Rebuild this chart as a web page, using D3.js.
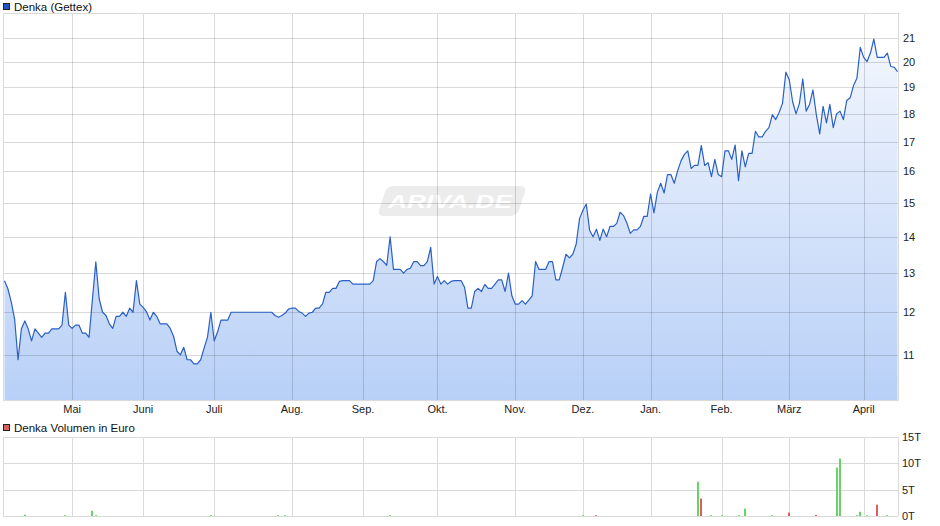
<!DOCTYPE html>
<html><head><meta charset="utf-8">
<script src="https://cdn.jsdelivr.net/npm/d3@7"></script>
<style>
body{margin:0;background:#fff;}
svg{display:block;font-family:"Liberation Sans",Arial,sans-serif;}
</style>
</head><body>
<svg id="c" width="940" height="526"></svg>
<script>
// ---------- data ----------
const prices = [
12.80,12.59,12.25,11.83,10.89,11.60,11.79,11.60,11.32,11.60,
11.50,11.40,11.50,11.50,11.60,11.60,11.60,11.69,12.50,11.69,
11.61,11.69,11.69,11.50,11.50,11.40,12.33,13.30,12.33,12.00,
11.92,11.72,11.61,11.90,11.90,12.00,11.90,12.10,12.00,12.80,
12.20,12.12,12.01,11.81,12.00,11.90,11.72,11.72,11.72,11.61,
11.42,11.08,11.00,11.17,10.89,10.89,10.80,10.80,10.89,11.15,
11.40,12.00,11.32,11.53,11.81,11.81,11.81,
12.00,12.00,12.00,12.00,12.00,12.00,12.00,12.00,12.00,12.00,12.00,12.00,12.00,
11.92,11.88,11.92,11.98,12.08,12.10,12.10,12.02,11.98,11.90,
11.98,12.00,12.10,12.10,12.20,12.50,12.50,12.60,12.60,12.78,
12.80,12.80,12.80,12.71,12.71,12.71,12.71,12.71,12.71,12.80,
13.31,13.39,13.31,13.21,14.00,13.10,13.10,13.10,13.00,13.10,
13.13,13.31,13.31,13.20,13.20,13.31,13.70,12.71,12.91,12.71,
12.80,12.71,12.78,12.80,12.80,12.80,12.63,12.10,12.10,12.52,
12.60,12.52,12.70,12.60,12.60,12.71,12.82,12.82,12.52,13.00,
12.41,12.20,12.20,12.29,12.20,12.30,12.41,13.31,13.10,13.10,
13.10,13.31,13.31,12.82,12.82,13.15,13.51,13.41,13.51,13.79,
14.53,14.78,14.97,14.18,14.00,14.22,13.90,14.22,14.00,14.30,
14.30,14.39,14.72,14.62,14.40,14.10,14.20,14.20,14.30,14.60,
14.60,15.28,14.70,15.33,15.62,15.31,15.90,15.90,15.62,
16.02,16.35,16.57,16.69,16.10,16.20,16.20,16.87,16.20,16.29,15.83,
16.40,15.90,15.83,16.69,16.69,16.40,16.89,15.70,16.69,16.15,
16.60,16.60,17.37,17.17,17.17,17.37,17.50,17.97,17.79,18.05,
18.39,19.60,19.30,18.45,18.00,18.39,19.33,18.10,18.35,18.90,
17.97,17.28,18.28,17.67,18.35,17.50,18.00,18.10,17.79,18.50,
18.60,19.07,19.36,20.62,20.20,20.03,20.38,20.97,20.20,20.20,
20.20,20.38,19.83,19.80,19.62
];
const monthLabels = ["Mai","Juni","Juli","Aug.","Sep.","Okt.","Nov.","Dez.","Jan.","Feb.","März","April"];
const monthIdx    = [20,41,62,85,106,128,151,171,191,212,232,254];
const priceTicks  = [11,12,13,14,15,16,17,18,19,20,21];
const priceDomain = [10.03,22.12];

const volIdx    = [6,18,26,27,61,81,83,114,171,175,205,206,209,212,217,219,227,232,240,246,247,252,253,255,258,261];
const volValues = [0.25,0.15,1.0,0.15,0.15,0.15,0.15,0.15,0.15,0.15,6.5,3.3,0.15,0.15,0.15,1.4,0.15,0.65,0.2,9.2,10.9,0.15,0.8,0.15,2.15,0.15];
const volDir    = ["u","u","u","u","u","u","u","u","u","d","u","d","u","u","u","u","u","d","d","u","u","u","u","u","d","u"];
const volTicks  = [0,5,10,15];
const volTickLabels = ["0T","5T","10T","15T"];
const volDomain = [0,15];

const title1 = "Denka (Gettex)";
const title2 = "Denka Volumen in Euro";

// ---------- layout ----------
const L = 3, R = 898;
const pTop = 13, pBot = 400;
const vTop = 437, vBot = 516;
const gridCol = "#dadada";

const svg = d3.select("#c");
const defs = svg.append("defs");
const grad = defs.append("linearGradient").attr("id","fillg")
  .attr("gradientUnits","userSpaceOnUse").attr("x1",0).attr("x2",0).attr("y1",pTop).attr("y2",pBot);
grad.append("stop").attr("offset","0%").attr("stop-color","#f7f9fe");
grad.append("stop").attr("offset","100%").attr("stop-color","#b8d0f7");

const x = d3.scaleLinear().domain([0, prices.length-1]).range([4.5, 897.5]);
const y = d3.scaleLog().domain(priceDomain).range([pBot, pTop]);
const yv = d3.scaleLinear().domain(volDomain).range([vBot, vTop]);

// ---------- price panel ----------
// legend
svg.append("rect").attr("x",3.5).attr("y",3.5).attr("width",6).attr("height",6)
  .attr("fill","#1f55c6").attr("stroke","#222").attr("stroke-width",1);
svg.append("text").attr("x",14).attr("y",11).attr("font-size",11.5).attr("fill","#111").text(title1);

// watermark
const wm = svg.append("g").attr("transform","translate(450,201)");
wm.append("rect").attr("x",-68).attr("y",-15).attr("width",140).attr("height",30).attr("rx",6)
  .attr("fill","#ececec").attr("transform","skewX(-18)");
wm.append("text").attr("x",0).attr("y",6.5).attr("text-anchor","middle")
  .attr("font-size",18).attr("font-weight","bold").attr("font-style","italic")
  .attr("fill","#ffffff").attr("textLength",124).attr("lengthAdjust","spacingAndGlyphs").text("ARIVA.DE");

// area + line
const area = d3.area().x((d,i)=>x(i)).y0(pBot).y1(d=>y(d));
svg.append("path").datum(prices).attr("d",area).attr("fill","url(#fillg)");

// grid
const g1 = svg.append("g").attr("stroke","rgba(0,0,0,0.145)").attr("stroke-width",1).attr("shape-rendering","crispEdges");
g1.selectAll("line.h").data(priceTicks).enter().append("line")
  .attr("x1",L).attr("x2",R).attr("y1",d=>Math.round(y(d))+0.5).attr("y2",d=>Math.round(y(d))+0.5);
g1.selectAll("line.v").data(monthIdx).enter().append("line")
  .attr("x1",d=>Math.round(x(d))+0.5).attr("x2",d=>Math.round(x(d))+0.5).attr("y1",pTop).attr("y2",pBot);

svg.append("path").datum(prices).attr("d",d3.line().x((d,i)=>x(i)).y(d=>y(d)))
  .attr("fill","none").attr("stroke","#2a60c6").attr("stroke-width",1.2).attr("stroke-linejoin","round");

svg.append("rect").attr("x",L+0.5).attr("y",pTop+0.5).attr("width",R-L).attr("height",pBot-pTop)
  .attr("fill","none").attr("stroke",gridCol).attr("shape-rendering","crispEdges");

// y labels
svg.append("g").selectAll("text").data(priceTicks).enter().append("text")
  .attr("x",903).attr("y",d=>y(d)).attr("dy","0.36em").attr("font-size",11).attr("fill","#222").text(d=>d);

// x labels
svg.append("g").selectAll("text").data(monthIdx).enter().append("text")
  .attr("x",d=>x(d)).attr("y",413).attr("text-anchor","middle").attr("font-size",11).attr("fill","#222")
  .text((d,i)=>monthLabels[i]);

// ---------- volume panel ----------
svg.append("rect").attr("x",3.5).attr("y",424.5).attr("width",6).attr("height",6)
  .attr("fill","#d9605f").attr("stroke","#222").attr("stroke-width",1);
svg.append("text").attr("x",14).attr("y",432).attr("font-size",11.5).attr("fill","#111").text(title2);

const g2 = svg.append("g").attr("stroke",gridCol).attr("stroke-width",1).attr("shape-rendering","crispEdges");
g2.selectAll("line.h").data(volTicks).enter().append("line")
  .attr("x1",L).attr("x2",R).attr("y1",d=>Math.round(yv(d))+0.5).attr("y2",d=>Math.round(yv(d))+0.5);
g2.selectAll("line.v").data(monthIdx).enter().append("line")
  .attr("x1",d=>Math.round(x(d))+0.5).attr("x2",d=>Math.round(x(d))+0.5).attr("y1",vTop).attr("y2",vBot);
g2.append("line").attr("x1",L+0.5).attr("x2",L+0.5).attr("y1",vTop).attr("y2",vBot);
g2.append("line").attr("x1",R+0.5).attr("x2",R+0.5).attr("y1",vTop).attr("y2",vBot);

svg.append("g").selectAll("rect").data(volIdx).enter().append("rect")
  .attr("x",d=>Math.round(x(d))-1).attr("width",2)
  .attr("y",(d,i)=>yv(volValues[i])).attr("height",(d,i)=>yv(0)-yv(volValues[i]))
  .attr("fill",(d,i)=>volDir[i]==="u" ? "#66d566" : "#d9605f");

svg.append("g").selectAll("text").data(volTicks).enter().append("text")
  .attr("x",902).attr("y",d=>yv(d)).attr("dy","0.36em").attr("font-size",11).attr("fill","#222")
  .text((d,i)=>volTickLabels[i]);
</script>
</body></html>
